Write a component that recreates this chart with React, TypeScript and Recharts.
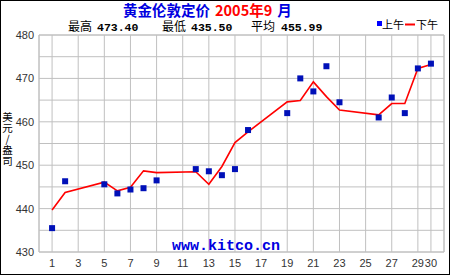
import { ComposedChart, Line, Scatter, XAxis, YAxis, CartesianGrid, ReferenceArea } from "recharts";

// trading days of Sept 2005
const days = [1, 2, 5, 6, 7, 8, 9, 12, 13, 14, 15, 16, 19, 20, 21, 22, 23, 26, 27, 28, 29, 30];
const amFix = [435.5, 446.3, 445.6, 443.5, 444.4, 444.7, 446.5, 449.1, 448.6, 447.7, 449.1, 458.1, 462.0, 470.0, 467.0, 472.8, 464.5, 461.0, 465.6, 462.0, 472.3, 473.4];
const pmFix = [439.7, 443.7, 446.1, 444.1, 444.9, 448.7, 448.3, 448.5, 445.6, 449.7, 455.2, 457.7, 464.6, 464.9, 469.2, 465.8, 462.7, 461.6, 464.2, 464.2, 472.3, 473.2];

const xTicks = [1, 3, 5, 7, 9, 11, 13, 15, 17, 19, 21, 23, 25, 27, 29, 30];
const yTicks = [430, 435, 440, 445, 450, 455, 460, 465, 470, 475, 480];
const yTitle = "美元/盎司";

const data = days.map((day, i) => ({ day, am: amFix[i], pm: pmFix[i] }));

const tickStyle = { fontSize: 11, fill: "#333", fontFamily: "Liberation Sans" };
const cjk = "Noto Sans CJK SC";
const mono = "Liberation Mono";

const Square = (props: any) => (
  <rect x={props.cx - 3} y={props.cy - 3} width={6} height={6} fill="#0010b8" />
);

export default function App() {
  return (
    <div style={{ position: "relative", width: 450, height: 275, background: "#fff" }}>
      <style>{"body{margin:0}"}</style>
      <ComposedChart width={450} height={275} data={data} margin={{ top: 35, right: 6, bottom: 0, left: 0 }}>
        <CartesianGrid stroke="#c0c0c0" strokeWidth={1} />
        <XAxis
          dataKey="day"
          type="number"
          domain={[0, 31]}
          ticks={xTicks}
          interval={0}
          height={23}
          axisLine={false}
          tickLine={false}
          tickSize={5}
          tickMargin={2}
          tick={tickStyle}
        />
        <YAxis
          type="number"
          domain={[430, 480]}
          ticks={yTicks}
          interval={0}
          width={39}
          axisLine={false}
          tickLine={false}
          tickSize={3}
          tickMargin={2}
          tick={tickStyle}
          tickFormatter={(v: number) => (v % 10 === 0 ? String(v) : "")}
        />
        <ReferenceArea x1={0} x2={31} y1={430} y2={480} fill="none" stroke="#c0c0c0" ifOverflow="visible" />
        <Line type="linear" dataKey="pm" stroke="#ff0000" strokeWidth={1.6} dot={false} isAnimationActive={false} />
        <Scatter dataKey="am" shape={Square} isAnimationActive={false} />
      </ComposedChart>
      <svg width={450} height={275} style={{ position: "absolute", left: 0, top: 0, pointerEvents: "none" }}>
        <rect x={0.5} y={0.5} width={449} height={274} fill="none" stroke="#000" />
        <text x={123} y={16} fontSize={14.5} fontFamily={cjk} fontWeight="bold">
          <tspan fill="#0000e0">黄金伦敦定价</tspan>
          <tspan fill="#ff0000" dx={5}>2005年9</tspan>
          <tspan fill="#0000e0" dx={5}>月</tspan>
        </text>
        <text x={68} y={30.5} fontSize={12} fontFamily={cjk} fill="#000">最高</text>
        <text x={97} y={30.5} fontSize={11.5} fontFamily={mono} fontWeight="bold" fill="#000">473.40</text>
        <text x={162} y={30.5} fontSize={12} fontFamily={cjk} fill="#000">最低</text>
        <text x={191} y={30.5} fontSize={11.5} fontFamily={mono} fontWeight="bold" fill="#000">435.50</text>
        <text x={251} y={30.5} fontSize={12} fontFamily={cjk} fill="#000">平均</text>
        <text x={281} y={30.5} fontSize={11.5} fontFamily={mono} fontWeight="bold" fill="#000">455.99</text>
        <rect x={377} y={21} width={5} height={5} fill="#0000ff" />
        <text x={382} y={29} fontSize={11} fontFamily={cjk} fill="#000">上午</text>
        <line x1={405} x2={415} y1={24.5} y2={24.5} stroke="#ff0000" strokeWidth={2} />
        <text x={416} y={29} fontSize={11} fontFamily={cjk} fill="#000">下午</text>
        <text
          x={7.5}
          y={112}
          fontSize={10.5}
          fontFamily={cjk}
          fill="#000"
          letterSpacing={0.5}
          style={{ writingMode: "vertical-rl", textOrientation: "upright" }}
        >
          {yTitle}
        </text>
        <text x={172} y={250} fontSize={15} fontFamily={mono} fontWeight="bold" fill="#0000e0">www.kitco.cn</text>
      </svg>
    </div>
  );
}
